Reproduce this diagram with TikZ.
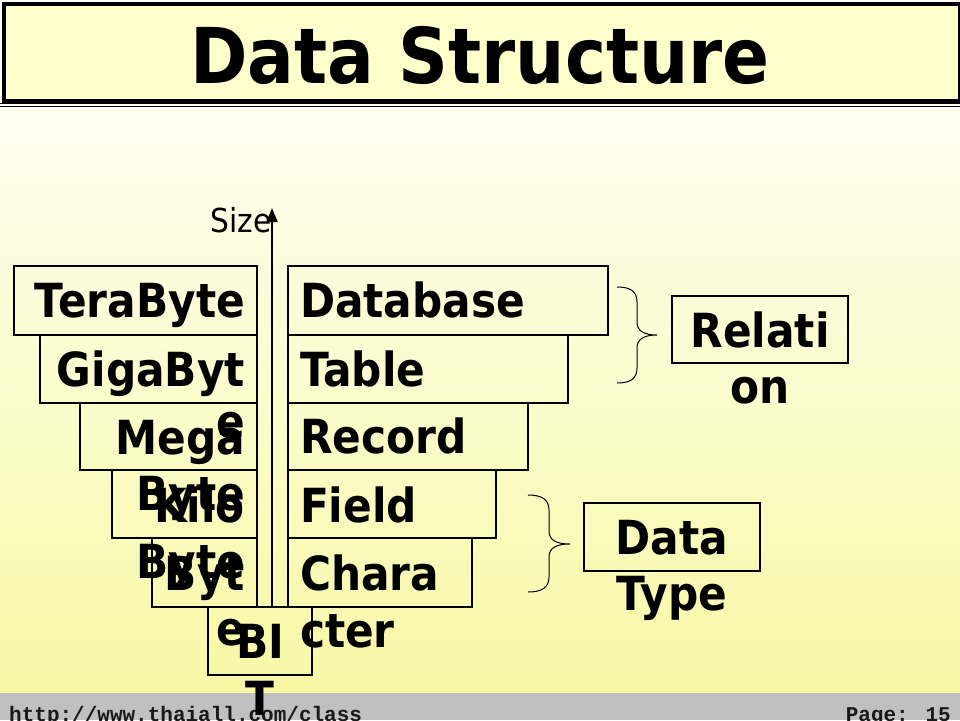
\documentclass[tikz,border=0pt]{standalone}
\usepackage{fontspec}
\setmainfont{DejaVu Sans}[FakeStretch=0.9]
\newfontfamily\footfont{Liberation Mono}
\usetikzlibrary{arrows.meta,calc}
\definecolor{titlefill}{HTML}{FFFFCC}
\definecolor{bgtop}{HTML}{FFFFFF}
\definecolor{bgbot}{HTML}{F8F8A6}
\definecolor{footgray}{HTML}{C0C0C0}
\tikzset{
  cell/.style={draw=black, line width=1.3pt, inner sep=0pt, outer sep=0pt, anchor=north west},
  lbl/.style={inner sep=0pt, outer sep=0pt, text=black, font=\bfseries\fontsize{47}{56}\selectfont},
  brace/.style={draw=black, line width=1pt},
}
\begin{document}
\begin{tikzpicture}[x=1pt,y=-1pt]
\useasboundingbox (0,0) rectangle (960,720);
% background
\fill[white] (0,0) rectangle (960,720);
\shade[top color=bgtop, bottom color=bgbot] (0,0) rectangle (960,693);
\fill[footgray] (0,693) rectangle (960,720);
% title
\node[draw=black, line width=4pt, fill=titlefill, minimum width=956pt, minimum height=97pt, inner sep=0pt, anchor=north west] (titlebox) at (2,2) {};
\draw[line width=1.2pt] (0,103.5) -- (960,103.5);
\draw[line width=1.2pt] (0,106.5) -- (960,106.5);
\node[inner sep=0pt, anchor=base, font=\bfseries\fontsize{77}{90}\selectfont] (title) at (480,83) {Data Structure};
% footer
\node[inner sep=0pt, anchor=base west, font=\footfont\bfseries\fontsize{21}{24}\selectfont, text=black!90] (url) at (9,721) {http://www.thaiall.com/class};
\node[inner sep=0pt, anchor=base east, font=\footfont\bfseries\fontsize{21}{24}\selectfont, text=black!90] (page) at (951,721) {Page: 15};
% left column boxes
\node[cell, minimum width=243pt, minimum height=69pt] (tera) at (14,266) {};
\node[cell, minimum width=217pt, minimum height=68pt] (giga) at (40,335) {};
\node[cell, minimum width=177pt, minimum height=67pt] (mega) at (80,403) {};
\node[cell, minimum width=145pt, minimum height=68pt] (kilo) at (112,470) {};
\node[cell, minimum width=105pt, minimum height=69pt] (byte) at (152,538) {};
\node[cell, minimum width=104pt, minimum height=68pt] (bit) at (208,607) {};
% right column boxes
\node[cell, minimum width=320pt, minimum height=69pt] (db) at (288,266) {};
\node[cell, minimum width=280pt, minimum height=68pt] (table) at (288,335) {};
\node[cell, minimum width=240pt, minimum height=67pt] (record) at (288,403) {};
\node[cell, minimum width=208pt, minimum height=68pt] (field) at (288,470) {};
\node[cell, minimum width=184pt, minimum height=69pt] (chara) at (288,538) {};
% side boxes
\node[cell, minimum width=176pt, minimum height=67pt] (rel) at (672,296) {};
\node[cell, minimum width=176pt, minimum height=68pt] (dtype) at (584,503) {};
% arrow
\coordinate (arrbot) at (272,607);
\coordinate (arrtop) at (272,208);
\draw[line width=2.2pt, -{Triangle[length=14pt,width=11pt]}] (arrbot) -- (arrtop);
\node[inner sep=0pt, anchor=base east, font=\fontsize{33}{40}\selectfont] (size) at (272,232) {Size};
% left texts
\node[lbl, anchor=base east] (teraA) at ($(tera.north east)+(-12,51)$) {TeraByte};
\node[lbl, anchor=base east] (gigaA) at ($(giga.north east)+(-12,51)$) {GigaByt};
\node[lbl, anchor=base east] (gigaB) at ($(giga.north east)+(-12,103)$) {e};
\node[lbl, anchor=base east] (megaA) at ($(mega.north east)+(-12,51)$) {Mega};
\node[lbl, anchor=base east] (megaB) at ($(mega.north east)+(-12,107)$) {Byte};
\node[lbl, anchor=base east] (kiloA) at ($(kilo.north east)+(-12,52)$) {Kilo};
\node[lbl, anchor=base east] (kiloB) at ($(kilo.north east)+(-12,108)$) {Byte};
\node[lbl, anchor=base east] (byteA) at ($(byte.north east)+(-12,52)$) {Byt};
\node[lbl, anchor=base east] (byteB) at ($(byte.north east)+(-12,107)$) {e};
\node[lbl, anchor=base] (bitA) at ($(bit.north)+(0,51)$) {BI};
\node[lbl, anchor=base] (bitB) at ($(bit.north)+(0,108)$) {T};
% right texts
\node[lbl, anchor=base west] (dbA) at ($(db.north west)+(12,51)$) {Database};
\node[lbl, anchor=base west] (tableA) at ($(table.north west)+(12,51)$) {Table};
\node[lbl, anchor=base west] (recordA) at ($(record.north west)+(12,50)$) {Record};
\node[lbl, anchor=base west] (fieldA) at ($(field.north west)+(12,52)$) {Field};
\node[lbl, anchor=base west] (charaA) at ($(chara.north west)+(12,52)$) {Chara};
\node[lbl, anchor=base west] (charaB) at ($(chara.north west)+(12,109)$) {cter};
% side texts
\node[lbl, anchor=base] (relA) at ($(rel.north)+(0,51)$) {Relati};
\node[lbl, anchor=base] (relB) at ($(rel.north)+(0,107)$) {on};
\node[lbl, anchor=base] (dtA) at ($(dtype.north)+(0,51)$) {Data};
\node[lbl, anchor=base] (dtB) at ($(dtype.north)+(0,107)$) {Type};
% braces
\draw[brace] (617,287) .. controls (630,287) and (637,291) .. (637,302)
  -- (637,322) .. controls (637,331) and (644,335) .. (657,335)
  .. controls (644,335) and (637,339) .. (637,348)
  -- (637,368) .. controls (637,379) and (630,383) .. (617,383);
\draw[brace] (528,495) .. controls (541,495) and (549,499) .. (549,510)
  -- (549,531) .. controls (549,540) and (556,544) .. (570,544)
  .. controls (556,544) and (549,548) .. (549,557)
  -- (549,577) .. controls (549,588) and (541,592) .. (528,592);
\end{tikzpicture}
\end{document}
